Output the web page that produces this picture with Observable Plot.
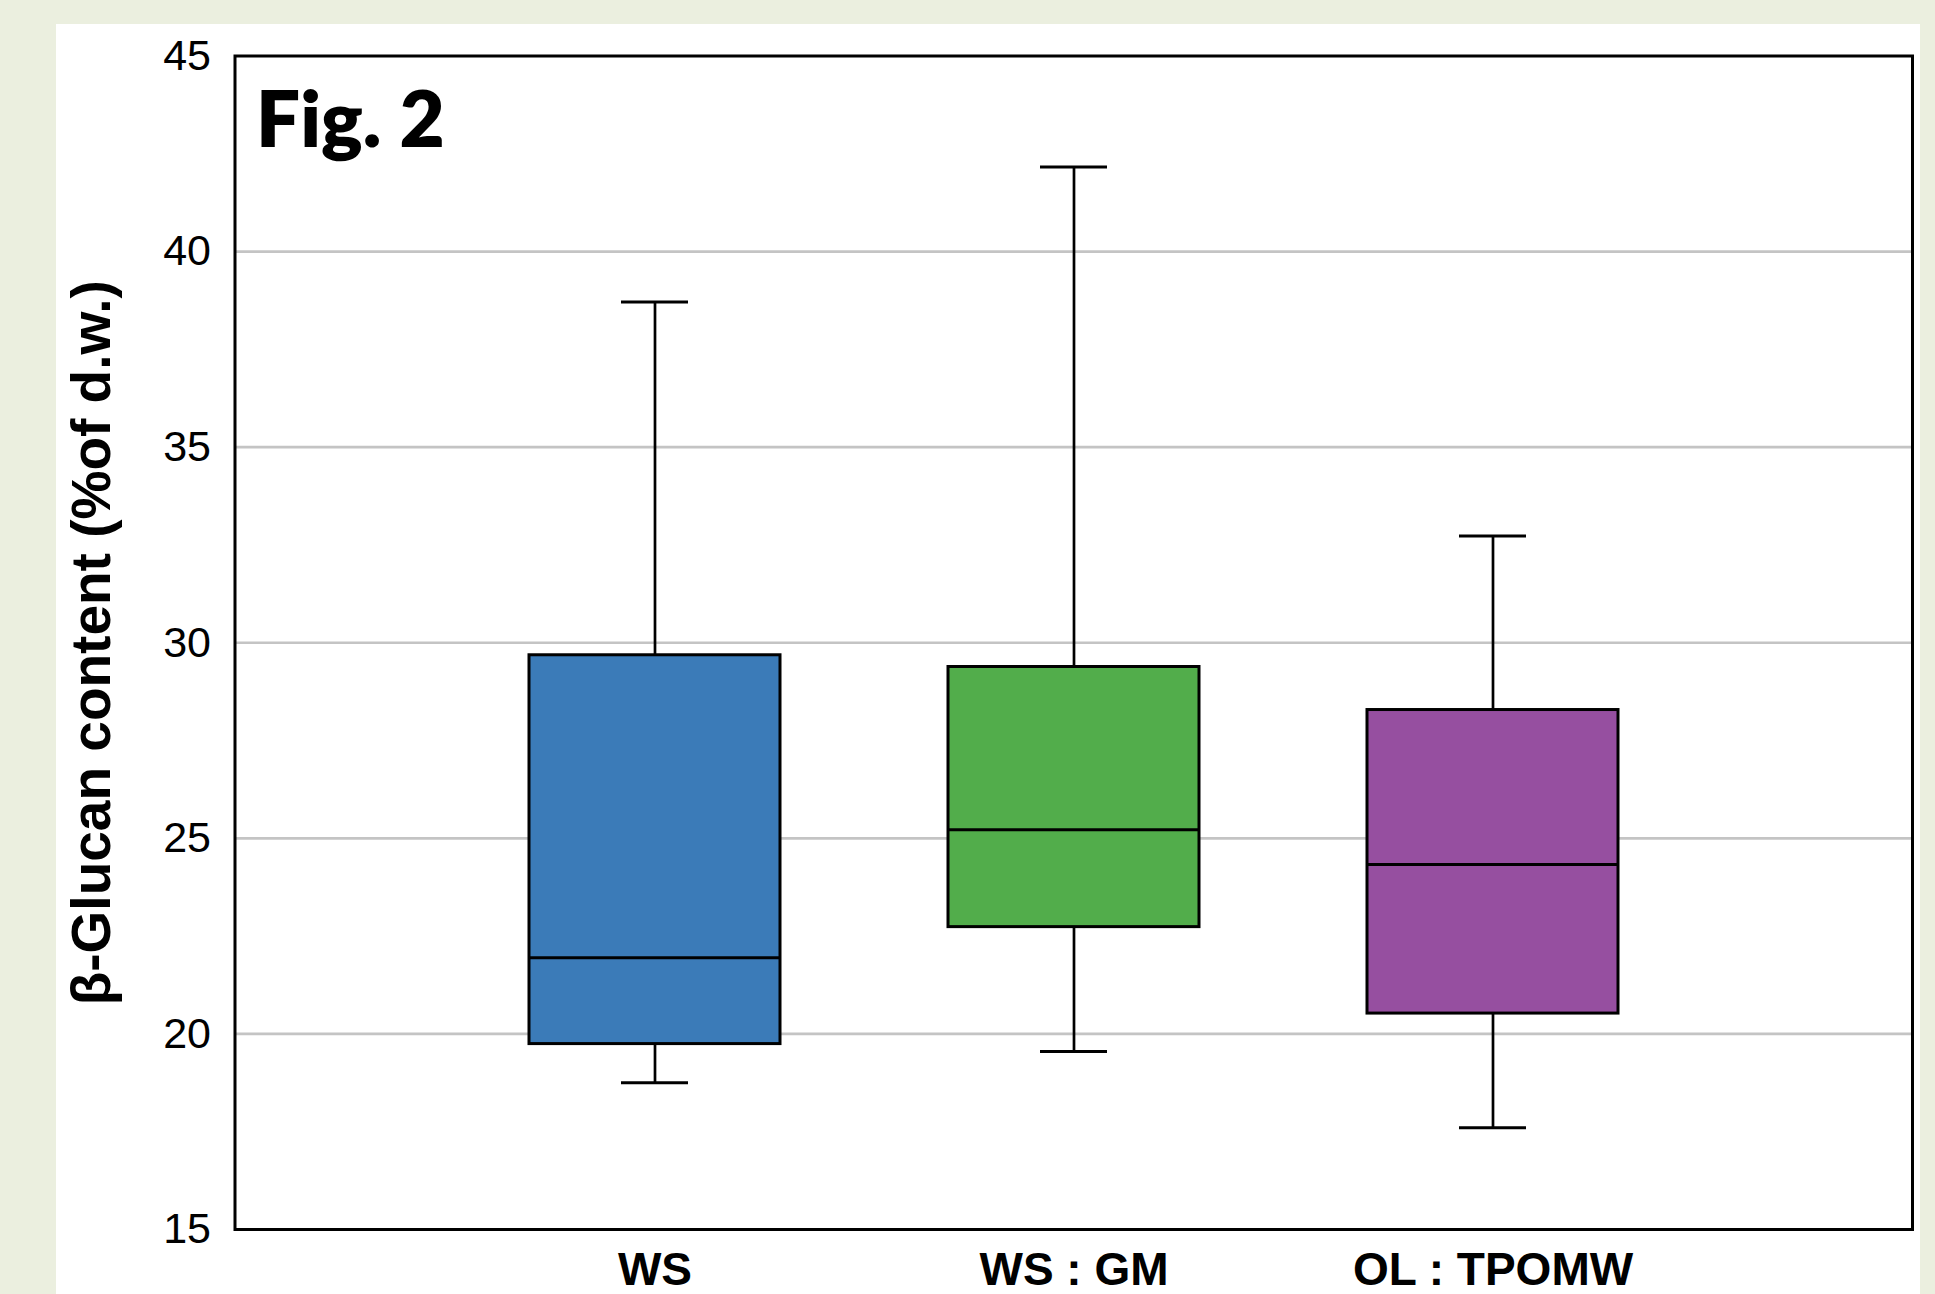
<!DOCTYPE html>
<html>
<head>
<meta charset="utf-8">
<script src="https://cdn.jsdelivr.net/npm/d3@7"></script>
<script src="https://cdn.jsdelivr.net/npm/@observablehq/plot@0.6"></script>
<style>
  html, body { margin: 0; padding: 0; }
  body { width: 1935px; height: 1294px; overflow: hidden; background: #ebefdf; position: relative; }
  #panel { position: absolute; left: 56px; top: 24px; width: 1864px; height: 1270px; background: #ffffff; overflow: hidden; }
  #panel svg { display: block; }
</style>
</head>
<body>
<div id="panel"></div>
<script>
// Data
const categories = ["WS", "WS : GM", "OL : TPOMW"];
const whiskerLow  = [18.75, 19.55, 17.6];
const quartile1   = [19.74, 22.73, 20.52];
const medians     = [21.95, 25.22, 24.33];
const quartile3   = [29.68, 29.38, 28.28];
const whiskerHigh = [38.71, 42.16, 32.73];
const boxColors   = ["#3b7bb8", "#52ad4b", "#964fa0"];
const yTicks      = [15, 20, 25, 30, 35, 40, 45];
const gridTicks   = [20, 25, 30, 35, 40];
const yTitle = "β-Glucan content (%of d.w.)";
const figLabel = "Fig. 2";

const rows = categories.map((c, i) => ({
  cat: c, low: whiskerLow[i], q1: quartile1[i], med: medians[i], q3: quartile3[i], high: whiskerHigh[i]
}));

const chart = Plot.plot({
  width: 1864,
  height: 1270,
  marginLeft: 178.5,
  marginTop: 31.5,
  marginRight: 8,
  marginBottom: 65,
  style: { fontFamily: "'Liberation Sans', Arial, sans-serif", fontSize: "43px", background: "#ffffff", color: "#000" },
  x: { type: "band", domain: categories, paddingInner: 0.4, paddingOuter: 0.7 },
  y: { domain: [15, 45] },
  color: { domain: categories, range: boxColors },
  marks: [
    Plot.gridY(gridTicks, { stroke: "#c4c4c4", strokeOpacity: 1, strokeWidth: 2.7 }),
    Plot.axisY(yTicks, { tickSize: 0, tickPadding: 24, fontSize: 43, label: null }),
    Plot.axisX({ tickSize: 0, tickPadding: 23, fontSize: 46, fontWeight: "bold", label: null }),
    Plot.ruleX(rows, { x: "cat", y1: "low", y2: "high", stroke: "#000", strokeWidth: 2.7 }),
    Plot.tickY(rows, { x: "cat", y: "low", stroke: "#000", strokeWidth: 3, insetLeft: 92, insetRight: 92 }),
    Plot.tickY(rows, { x: "cat", y: "high", stroke: "#000", strokeWidth: 3, insetLeft: 92, insetRight: 92 }),
    Plot.barY(rows, { x: "cat", y1: "q1", y2: "q3", fill: "cat", stroke: "#000", strokeWidth: 3 }),
    Plot.tickY(rows, { x: "cat", y: "med", stroke: "#000", strokeWidth: 3 }),
    Plot.frame({ stroke: "#000", strokeWidth: 3 }),
    Plot.text([figLabel], {
      frameAnchor: "top-left", textAnchor: "start", lineAnchor: "top",
      dx: 21, dy: 36, fontSize: 78, fontWeight: 800,
      fontFamily: "Lato, 'Open Sans', sans-serif", fill: "#000"
    }),
    Plot.text([yTitle], {
      frameAnchor: "left", rotate: -90, textAnchor: "middle", lineAnchor: "middle",
      dx: -143, fontSize: 55, fontWeight: "bold", fill: "#000"
    })
  ]
});
document.getElementById("panel").appendChild(chart);
</script>
</body>
</html>
